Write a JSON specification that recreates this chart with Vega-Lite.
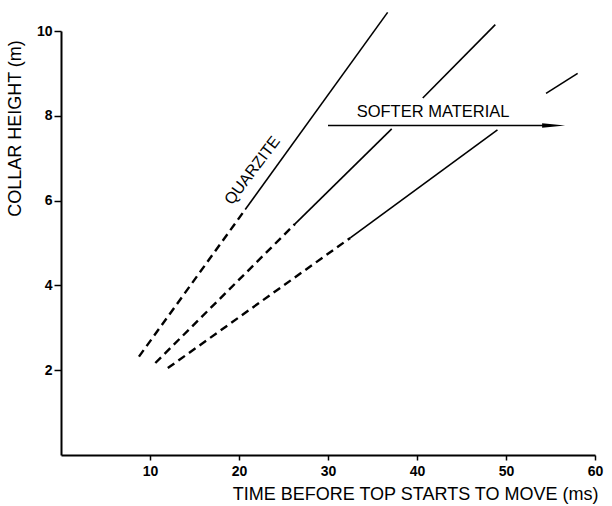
{
  "$schema": "https://vega.github.io/schema/vega-lite/v6.json",
  "width": 534,
  "height": 424,
  "autosize": {"type": "none"},
  "padding": {"left": 61, "top": 31, "right": 17, "bottom": 51},
  "background": "white",
  "config": {
    "view": {"stroke": null},
    "font": "Liberation Sans",
    "axis": {
      "grid": false,
      "domainColor": "black",
      "domainWidth": 2,
      "tickColor": "black",
      "tickWidth": 1.5,
      "labelColor": "black",
      "titleColor": "black",
      "labelFont": "Liberation Sans",
      "titleFont": "Liberation Sans",
      "labelFontWeight": "bold",
      "titleFontWeight": "normal",
      "labelFlush": false,
      "labelOverlap": false
    }
  },
  "datasets": {
    "curves": [
      {"material": "quarzite", "seg": "q1", "style": "dashed", "t": 8.76, "h": 2.32},
      {"material": "quarzite", "seg": "q1", "style": "dashed", "t": 20.7, "h": 5.79},
      {"material": "quarzite", "seg": "q2", "style": "solid", "t": 20.7, "h": 5.79},
      {"material": "quarzite", "seg": "q2", "style": "solid", "t": 36.7, "h": 10.44},
      {"material": "medium", "seg": "b1", "style": "dashed", "t": 10.6, "h": 2.17},
      {"material": "medium", "seg": "b1", "style": "dashed", "t": 26.3, "h": 5.45},
      {"material": "medium", "seg": "b2", "style": "solid", "t": 26.3, "h": 5.45},
      {"material": "medium", "seg": "b2", "style": "solid", "t": 37.16, "h": 7.69},
      {"material": "medium", "seg": "b3", "style": "solid", "t": 40.65, "h": 8.42},
      {"material": "medium", "seg": "b3", "style": "solid", "t": 48.8, "h": 10.15},
      {"material": "soft", "seg": "c1", "style": "dashed", "t": 12.0, "h": 2.05},
      {"material": "soft", "seg": "c1", "style": "dashed", "t": 32.5, "h": 5.12},
      {"material": "soft", "seg": "c2", "style": "solid", "t": 32.5, "h": 5.12},
      {"material": "soft", "seg": "c2", "style": "solid", "t": 49.04, "h": 7.67},
      {"material": "soft", "seg": "c3", "style": "solid", "t": 54.5, "h": 8.53},
      {"material": "soft", "seg": "c3", "style": "solid", "t": 58.05, "h": 9.0}
    ]
  },
  "layer": [
    {
      "data": {"name": "curves"},
      "transform": [{"filter": "datum.style === 'dashed'"}],
      "mark": {"type": "line", "color": "black", "strokeWidth": 2.4, "strokeDash": [8, 5]},
      "encoding": {
        "x": {
          "field": "t", "type": "quantitative",
          "scale": {"domain": [0, 60], "nice": false, "zero": false},
          "axis": {
            "values": [10, 20, 30, 40, 50, 60],
            "tickSize": 5,
            "labelPadding": 4,
            "labelFontSize": 14,
            "title": "TIME BEFORE TOP STARTS TO MOVE (ms)",
            "titleFontSize": 18,
            "titleX": 537,
            "titleY": 39,
            "titleAlign": "right",
            "titleBaseline": "middle"
          }
        },
        "y": {
          "field": "h", "type": "quantitative",
          "scale": {"domain": [0, 10], "nice": false, "zero": false},
          "axis": {
            "values": [2, 4, 6, 8, 10],
            "tickSize": 7,
            "labelPadding": 2,
            "labelFontSize": 14,
            "title": "COLLAR HEIGHT (m)",
            "titleFontSize": 18,
            "titleAngle": -90,
            "titleX": -46,
            "titleY": 97,
            "titleAlign": "center",
            "titleBaseline": "middle"
          }
        },
        "detail": {"field": "seg", "type": "nominal"}
      }
    },
    {
      "data": {"name": "curves"},
      "transform": [{"filter": "datum.style === 'solid'"}],
      "mark": {"type": "line", "color": "black", "strokeWidth": 1.6},
      "encoding": {
        "x": {"field": "t", "type": "quantitative"},
        "y": {"field": "h", "type": "quantitative"},
        "detail": {"field": "seg", "type": "nominal"}
      }
    },
    {
      "data": {"values": [{"t1": 30.0, "t2": 55.0, "h": 7.77}]},
      "mark": {"type": "rule", "color": "black", "strokeWidth": 1.5},
      "encoding": {
        "x": {"field": "t1", "type": "quantitative"},
        "x2": {"field": "t2"},
        "y": {"field": "h", "type": "quantitative"}
      }
    },
    {
      "data": {"values": [{"t": 55.35, "h": 7.77}]},
      "mark": {"type": "point", "filled": true, "color": "black", "opacity": 1, "shape": "M-1,-0.2L1,0L-1,0.2Z", "size": 529},
      "encoding": {
        "x": {"field": "t", "type": "quantitative"},
        "y": {"field": "h", "type": "quantitative"}
      }
    },
    {
      "data": {"values": [{"t": 41.8, "h": 8.08, "label": "SOFTER MATERIAL"}]},
      "mark": {"type": "text", "fontSize": 16.5, "color": "black", "align": "center", "baseline": "middle"},
      "encoding": {
        "x": {"field": "t", "type": "quantitative"},
        "y": {"field": "h", "type": "quantitative"},
        "text": {"field": "label"}
      }
    },
    {
      "data": {"values": [{"t": 21.5, "h": 6.71, "label": "QUARZITE"}]},
      "mark": {"type": "text", "fontSize": 16, "color": "black", "align": "center", "baseline": "middle", "angle": -53},
      "encoding": {
        "x": {"field": "t", "type": "quantitative"},
        "y": {"field": "h", "type": "quantitative"},
        "text": {"field": "label"}
      }
    }
  ]
}
